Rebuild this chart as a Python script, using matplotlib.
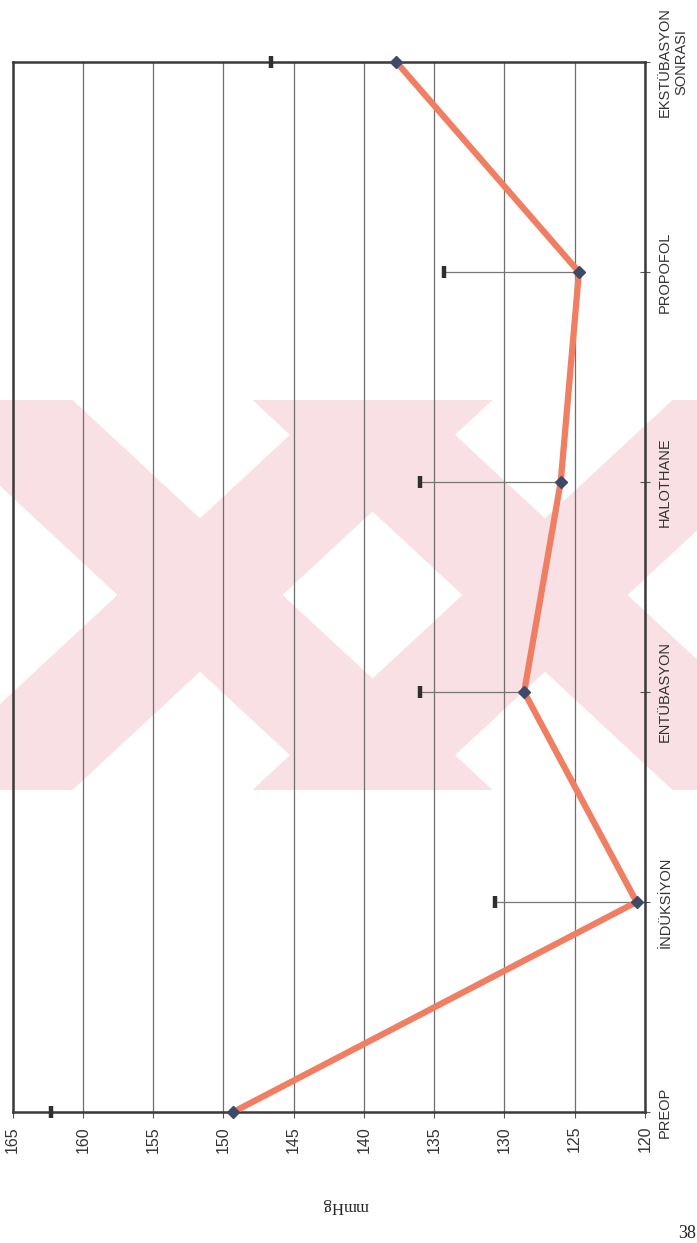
import matplotlib.pyplot as plt
from matplotlib.patches import Polygon, Rectangle
import numpy as np

# mean arterial pressure by stage, with upper SD whisker
stages = ["PREOP", "İNDÜKSİYON", "ENTÜBASYON", "HALOTHANE", "PROPOFOL",
          "EKSTÜBASYON\nSONRASI"]
mean_vals = [149.3, 120.6, 128.6, 126.0, 124.7, 137.7]
upper_vals = [162.3, 130.7, 136.0, 136.0, 134.3, 146.6]
value_ticks = [165, 160, 155, 150, 145, 140, 135, 130, 125, 120]

W, H = 697, 1243
plt.rcParams['font.family'] = ['Liberation Sans', 'DejaVu Sans']

fig = plt.figure(figsize=(W / 100, H / 100), dpi=100)
fig.patch.set_facecolor('white')


def fx(px):
    return px / W


def fy(py):
    return 1 - py / H


# faint background stamp (two crossed band pairs)
band_col = '#f9e0e5'
top, bot = 400, 790
clip = Rectangle((0, fy(bot)), 1, fy(top) - fy(bot), transform=fig.transFigure,
                 facecolor='none', edgecolor='none')
fig.patches.append(clip)
bw = 165
for cx in (200, 545):
    for sgn in (1, -1):
        x0 = cx - sgn * 210
        x1 = cx + sgn * 210
        pts = [(x0 - bw / 2, top), (x0 + bw / 2, top),
               (x1 + bw / 2, bot), (x1 - bw / 2, bot)]
        poly = Polygon([(fx(a), fy(b)) for a, b in pts], closed=True,
                       transform=fig.transFigure, facecolor=band_col,
                       edgecolor='none', zorder=-5)
        poly.set_clip_path(clip)
        fig.patches.append(poly)

ax = fig.add_axes([fx(12.7), fy(1112), fx(645) - fx(12.7), fy(62) - fy(1112)])
ax.set_facecolor('none')

ypos = np.arange(len(stages))
ax.set_xlim(165, 120)
ax.set_ylim(0, len(stages) - 1)

ax.set_xticks(value_ticks)
ax.set_xticklabels([str(v) for v in value_ticks], rotation=90, fontsize=11.5)
ax.xaxis.grid(True, color='#6e6e6e', lw=0.9)
ax.set_axisbelow(True)

ax.yaxis.tick_right()
ax.set_yticks(ypos)
ax.set_yticklabels(stages, rotation=90, fontsize=10.5, va='center',
                   ha='left', multialignment='center', color='#333333')
ax.tick_params(axis='y', direction='inout', length=7, width=0.8, colors='#555555',
               labelcolor='#333333', pad=6)
ax.tick_params(axis='x', direction='out', length=4, width=0.8, colors='#555555',
               labelcolor='#333333', pad=6)

for s in ax.spines.values():
    s.set_color('#3a3a3a')
    s.set_linewidth(1.8)

# whiskers: thin stem, heavy cap
ax.hlines(ypos, mean_vals, upper_vals, color='#777777', lw=0.9, zorder=2,
          clip_on=False)
ax.plot(upper_vals, ypos, ls='none', marker='|', ms=8, mew=3.2,
        color='#2f2f2f', zorder=5, clip_on=False)

ax.plot(mean_vals, ypos, color='#f07e62', lw=4.5, solid_capstyle='round',
        zorder=3, clip_on=False)
ax.plot(mean_vals, ypos, ls='none', marker='D', ms=6.5, color='#3d4a68',
        zorder=4, clip_on=False)

fig.text(fx(345), fy(1206), "mmHg", rotation=180, ha='center', va='center',
         fontsize=12, family=['Liberation Serif', 'DejaVu Serif'], color='#222222')
fig.text(fx(678), fy(1233), "38", ha='left', va='center', fontsize=13,
         family=['Liberation Serif', 'DejaVu Serif'], color='#222222')

fig.savefig('out.png', dpi=100)
